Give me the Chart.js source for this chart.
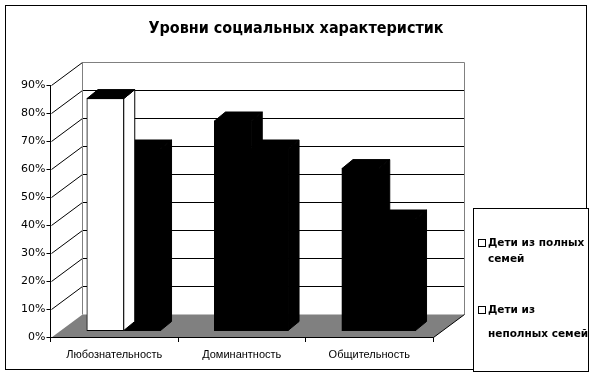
<!DOCTYPE html>
<html>
<head>
<meta charset="utf-8">
<script src="https://cdn.jsdelivr.net/npm/chart.js@4.4.0/dist/chart.umd.min.js"></script>
<style>
  html, body { margin: 0; padding: 0; background: #fff; }
</style>
</head>
<body>
<canvas id="social_chart" width="595" height="375"></canvas>
<script>
const title_text = "Уровни социальных характеристик";
const categories = ["Любознательность", "Доминантность", "Общительность"];
const full_families = [83, 75, 58];
const single_parent = [65, 65, 40];
const series_names = [["Дети из полных", "семей"], ["Дети из", "неполных семей"]];
const y_max = 90;
const y_step = 10;

// 3d look: back wall offset, bar plane offset, bar depth
const WALL_DX = 31, WALL_DY = -23;
const SHIFT_X = 9.5, SHIFT_Y = -6;
const BAR_DX = 11, BAR_DY = -9;

function poly(ctx, pts) {
  ctx.beginPath();
  ctx.moveTo(pts[0][0], pts[0][1]);
  for (let i = 1; i < pts.length; i++) ctx.lineTo(pts[i][0], pts[i][1]);
  ctx.closePath();
}

function line(ctx, x1, y1, x2, y2) {
  ctx.beginPath();
  ctx.moveTo(x1, y1);
  ctx.lineTo(x2, y2);
  ctx.stroke();
}

const depth3d = {
  id: "depth3d",
  beforeDatasetsDraw(chart) {
    const { ctx, chartArea: a, scales: { y } } = chart;
    const y0 = Math.round(y.getPixelForValue(0)) + 0.5;
    const left = Math.round(a.left) + 0.5;
    const right = Math.round(a.right) + 0.5;
    ctx.save();
    ctx.lineWidth = 1;

    // title, centred over the whole picture
    ctx.fillStyle = "#000";
    ctx.font = "bold 16px 'DejaVu Sans Condensed'";
    ctx.textAlign = "center";
    ctx.textBaseline = "middle";
    ctx.fillText(title_text, 296, 29);

    // back wall grid
    y.ticks.forEach((t) => {
      if (t.value === 0) return;
      const py = Math.round(y.getPixelForValue(t.value)) + 0.5;
      ctx.strokeStyle = t.value === y_max ? "#808080" : "#000";
      line(ctx, left + WALL_DX, py + WALL_DY, right + WALL_DX, py + WALL_DY);
      ctx.strokeStyle = "#000";
      line(ctx, left, py, left + WALL_DX, py + WALL_DY);
    });
    const topY = Math.round(y.getPixelForValue(y_max)) + 0.5 + WALL_DY;
    ctx.strokeStyle = "#808080";
    line(ctx, left + WALL_DX, topY, left + WALL_DX, y0 + WALL_DY);
    line(ctx, right + WALL_DX, topY, right + WALL_DX, y0 + WALL_DY);

    // floor
    ctx.fillStyle = "#808080";
    poly(ctx, [[left, y0], [right, y0], [right + WALL_DX, y0 + WALL_DY], [left + WALL_DX, y0 + WALL_DY]]);
    ctx.fill();
    ctx.strokeStyle = "#000";
    line(ctx, left, y0, right, y0);
    line(ctx, right, y0, right + WALL_DX, y0 + WALL_DY);
    ctx.restore();

    ctx.save();
    ctx.translate(SHIFT_X, SHIFT_Y);
  },
  afterDatasetDraw(chart, args) {
    const ctx = chart.ctx;
    const ds = chart.data.datasets[args.index];
    args.meta.data.forEach((bar, i) => {
      const { x, y, base, width } = bar.getProps(["x", "y", "base", "width"], true);
      const l = x - width / 2;
      const r = x + width / 2;
      const fill = Array.isArray(ds.backgroundColor) ? ds.backgroundColor[i] : ds.backgroundColor;
      ctx.lineWidth = 1;
      ctx.strokeStyle = "#000";
      ctx.fillStyle = fill;
      poly(ctx, [[r, y], [r + BAR_DX, y + BAR_DY], [r + BAR_DX, base + BAR_DY], [r, base]]);
      ctx.fill();
      ctx.stroke();
      ctx.fillStyle = "#000";
      poly(ctx, [[l, y], [l + BAR_DX, y + BAR_DY], [r + BAR_DX, y + BAR_DY], [r, y]]);
      ctx.fill();
      ctx.stroke();
    });
  },
  afterDatasetsDraw(chart) {
    const ctx = chart.ctx;
    ctx.restore();
    ctx.save();
    ctx.lineWidth = 1;
    ctx.strokeStyle = "#000";
    // outer frame
    ctx.strokeRect(5.5, 5.5, 581, 364);
    // legend box
    ctx.fillStyle = "#fff";
    ctx.fillRect(473.5, 208.5, 115, 163);
    ctx.strokeRect(473.5, 208.5, 115, 163);
    const rows = [[243, 259], [310, 334]];
    ctx.font = "bold 10.5px 'DejaVu Sans'";
    ctx.textBaseline = "middle";
    ctx.textAlign = "left";
    series_names.forEach((lines, k) => {
      const ry = rows[k];
      ctx.fillStyle = "#fff";
      ctx.fillRect(478.5, ry[0] - 3.5, 7, 7);
      ctx.strokeRect(478.5, ry[0] - 3.5, 7, 7);
      ctx.fillStyle = "#000";
      lines.forEach((s, j) => ctx.fillText(s, 488, ry[j]));
    });
    ctx.restore();
  },
};

new Chart(document.getElementById("social_chart"), {
  type: "bar",
  data: {
    labels: categories,
    datasets: [
      {
        label: series_names[0].join(" "),
        data: full_families,
        backgroundColor: ["#ffffff", "#000000", "#000000"],
        borderColor: "#000",
        borderWidth: 1,
        borderSkipped: false,
        inflateAmount: 0.5,
        clip: false,
      },
      {
        label: series_names[1].join(" "),
        data: single_parent,
        backgroundColor: "#000000",
        borderColor: "#000",
        borderWidth: 1,
        borderSkipped: false,
        inflateAmount: 0.5,
        clip: false,
      },
    ],
  },
  options: {
    responsive: false,
    animation: false,
    devicePixelRatio: 1,
    categoryPercentage: 0.577,
    barPercentage: 1,
    layout: { padding: { left: 5, right: 162, top: 85, bottom: 5 } },
    plugins: {
      legend: { display: false },
      tooltip: { enabled: false },
      title: { display: false },
    },
    scales: {
      x: {
        grid: { display: true, drawOnChartArea: false, drawTicks: true, tickLength: 5, color: "#000", offset: true },
        border: { display: true, color: "#000" },
        ticks: {
          color: "#000",
          padding: 6,
          maxRotation: 0,
          font: { family: "'Liberation Sans'", size: 11 },
        },
        afterFit(scale) { scale.height = 33; },
      },
      y: {
        min: 0,
        max: y_max,
        grid: { display: true, drawOnChartArea: false, drawTicks: true, tickLength: 4, color: "#000" },
        border: { display: true, color: "#000" },
        ticks: {
          stepSize: y_step,
          color: "#000",
          padding: 1,
          font: { family: "'DejaVu Sans'", size: 11 },
          callback: (v) => v + "%",
        },
        afterFit(scale) { scale.width = 45.5; },
      },
    },
  },
  plugins: [depth3d],
});
</script>
</body>
</html>
